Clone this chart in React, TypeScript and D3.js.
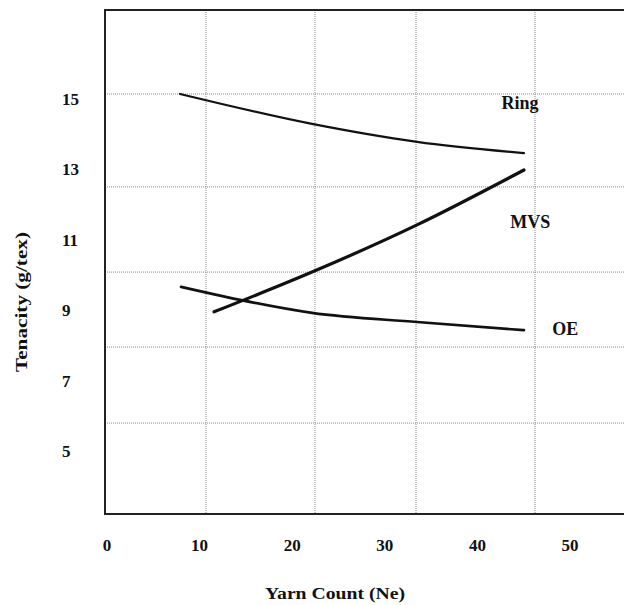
import React from "react";
import * as d3 from "d3";

const xTicks = [0, 10, 20, 30, 40, 50];
const yTicks = [15, 13, 11, 9, 7, 5];
const xGrid = [10.69, 22.46, 33.37, 46.22];
const yGrid = [15.2, 12.56, 10.14, 8.01, 5.85];

const ringX = [7.88, 22.14, 33.48, 45.03];
const ringY = [15.2, 14.35, 13.84, 13.52];
const mvsX = [11.56, 22.14, 33.48, 45.03];
const mvsY = [9.01, 10.14, 11.48, 13.04];
const oeX = [7.99, 14.36, 22.14, 33.48, 45.03];
const oeY = [9.72, 9.35, 8.98, 8.72, 8.49];

const series = [
  { name: "Ring", xs: ringX, ys: ringY, width: 2.2, lx: 44.6, ly: 14.89 },
  { name: "MVS", xs: mvsX, ys: mvsY, width: 3.2, lx: 45.7, ly: 11.5 },
  { name: "OE", xs: oeX, ys: oeY, width: 2.6, lx: 49.5, ly: 8.46 },
];

export default function App() {
  const W = 624, H = 605;
  const x = d3.scaleLinear().domain([0, 50]).range([107, 570]);
  const y = d3.scaleLinear().domain([5, 15]).range([453, 101]);
  const frameLeft = 105, frameTop = 10, frameBottom = 514;
  const line = d3
    .line<[number, number]>()
    .x((d) => x(d[0]))
    .y((d) => y(d[1]))
    .curve(d3.curveMonotoneX);
  const font = "'Liberation Serif', 'Times New Roman', serif";
  return (
    <svg
      width={W}
      height={H}
      style={{ position: "absolute", left: 0, top: 0, background: "#fff" }}
      fontFamily={font}
      fontWeight="bold"
    >
      <rect x={0} y={0} width={W} height={H} fill="#fff" />
      {xGrid.map((g) => (
        <line
          key={"xg" + g}
          x1={x(g)}
          x2={x(g)}
          y1={frameTop}
          y2={frameBottom}
          stroke="#888"
          strokeWidth={1}
          strokeDasharray="1,1"
        />
      ))}
      {yGrid.map((g) => (
        <line
          key={"yg" + g}
          x1={frameLeft}
          x2={W}
          y1={y(g)}
          y2={y(g)}
          stroke="#888"
          strokeWidth={1}
          strokeDasharray="1,1"
        />
      ))}
      <path
        d={`M${W},${frameTop}H${frameLeft}V${frameBottom}H${W}`}
        fill="none"
        stroke="#222"
        strokeWidth={2}
      />
      {series.map((s) => (
        <g key={s.name}>
          <path
            d={line(s.xs.map((v, i) => [v, s.ys[i]]) as [number, number][]) || ""}
            fill="none"
            stroke="#111"
            strokeWidth={s.width}
            strokeLinecap="round"
          />
          <text
            x={x(s.lx)}
            y={y(s.ly)}
            textAnchor="middle"
            dominantBaseline="middle"
            fontSize={18}
            fill="#111"
          >
            {s.name}
          </text>
        </g>
      ))}
      {yTicks.map((t) => (
        <text
          key={"yt" + t}
          x={62}
          y={y(t)}
          dominantBaseline="middle"
          fontSize={17}
          fill="#111"
        >
          {t}
        </text>
      ))}
      {xTicks.map((t) => (
        <text
          key={"xt" + t}
          x={x(t)}
          y={547}
          textAnchor="middle"
          dominantBaseline="middle"
          fontSize={17}
          fill="#111"
        >
          {t}
        </text>
      ))}
      <text
        x={335}
        y={599}
        textAnchor="middle"
        fontSize={17}
        textLength={140}
        lengthAdjust="spacingAndGlyphs"
        fill="#111"
      >
        Yarn Count (Ne)
      </text>
      <text
        transform="translate(27,302) rotate(-90)"
        textAnchor="middle"
        fontSize={17}
        textLength={140}
        lengthAdjust="spacingAndGlyphs"
        fill="#111"
      >
        Tenacity (g/tex)
      </text>
    </svg>
  );
}
